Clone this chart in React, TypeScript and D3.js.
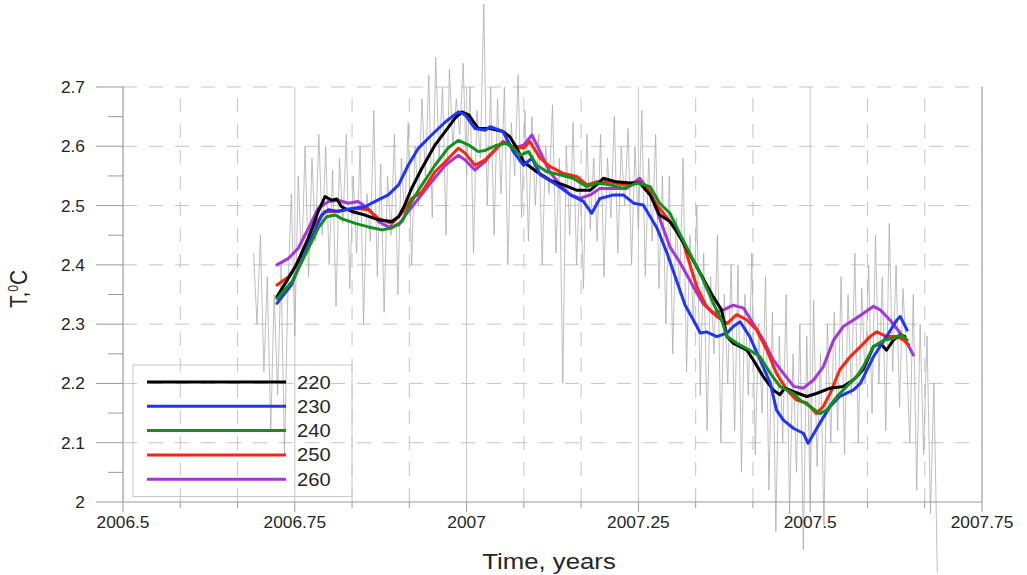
import React from 'react';
import * as d3 from 'd3';

// ---------- data ----------
const xTickValues = [2006.5, 2006.75, 2007, 2007.25, 2007.5, 2007.75];
const xTickLabels = ['2006.5', '2006.75', '2007', '2007.25', '2007.5', '2007.75'];
const yTickValues = [2, 2.1, 2.2, 2.3, 2.4, 2.5, 2.6, 2.7];
const yTickLabels = ['2', '2.1', '2.2', '2.3', '2.4', '2.5', '2.6', '2.7'];
const seriesNames = ['220', '230', '240', '250', '260'];
const seriesColors = ['#000000', '#1f35ff', '#12901c', '#ff2410', '#a435dc'];

// raw record (gray), sampled every grayStep years from grayStart
const grayStart = 2006.69;
const grayStep = 0.005;
const grayValues = [
  2.42, 2.30, 2.45, 2.22, 2.38, 2.12, 2.35, 2.18, 2.40, 2.08,
  2.36, 2.52, 2.28, 2.55, 2.40, 2.60, 2.38, 2.58, 2.44, 2.62,
  2.45, 2.60, 2.40, 2.56, 2.33, 2.58, 2.47, 2.62, 2.36, 2.55,
  2.42, 2.60, 2.30, 2.52, 2.44, 2.66, 2.38, 2.57, 2.32, 2.55,
  2.45, 2.62, 2.35, 2.58, 2.48, 2.64, 2.40, 2.60, 2.50, 2.68,
  2.55, 2.72, 2.48, 2.75, 2.58, 2.70, 2.45, 2.73, 2.60, 2.68,
  2.62, 2.74, 2.55, 2.70, 2.42, 2.66, 2.58, 2.84, 2.50, 2.70,
  2.45, 2.68, 2.52, 2.70, 2.40, 2.64, 2.55, 2.72, 2.48, 2.66,
  2.44, 2.65, 2.50, 2.62, 2.40, 2.60, 2.52, 2.67, 2.42, 2.58,
  2.20, 2.60, 2.45, 2.64, 2.40, 2.55, 2.36, 2.62, 2.46, 2.58,
  2.44, 2.62, 2.38, 2.58, 2.48, 2.65, 2.42, 2.60, 2.50, 2.63,
  2.40, 2.60, 2.46, 2.66, 2.38, 2.58, 2.44, 2.62, 2.36, 2.55,
  2.30, 2.55, 2.25, 2.48, 2.35, 2.58, 2.22, 2.45, 2.30, 2.50,
  2.18, 2.42, 2.12, 2.38, 2.25, 2.45, 2.10, 2.35, 2.20, 2.40,
  2.12, 2.40, 2.05, 2.35, 2.18, 2.42, 2.08, 2.30, 2.15, 2.38,
  2.02, 2.32, 1.95, 2.28, 2.10, 2.35, 1.98, 2.25, 2.05, 2.30,
  1.92, 2.28, 2.00, 2.34, 2.06, 2.25, 1.96, 2.30, 2.10, 2.32,
  2.12, 2.38, 2.08, 2.35, 2.18, 2.42, 2.10, 2.36, 2.20, 2.40,
  2.15, 2.45, 2.20, 2.38, 2.12, 2.47, 2.22, 2.40, 2.16, 2.36,
  2.25, 2.10, 2.35, 2.02, 2.30, 2.08, 2.28, 1.98, 2.20, 1.88,
];

const s220: [number, number][] = [
  [2006.724, 2.346], [2006.750, 2.395], [2006.770, 2.445], [2006.784, 2.49], [2006.794, 2.515],
  [2006.804, 2.509], [2006.811, 2.511], [2006.818, 2.498], [2006.833, 2.49], [2006.852, 2.484],
  [2006.872, 2.476], [2006.891, 2.473], [2006.901, 2.481], [2006.910, 2.501], [2006.920, 2.529],
  [2006.935, 2.563], [2006.954, 2.602], [2006.969, 2.625], [2006.983, 2.647], [2006.993, 2.658],
  [2007.003, 2.653], [2007.017, 2.63], [2007.034, 2.63], [2007.053, 2.625], [2007.063, 2.616],
  [2007.073, 2.597], [2007.083, 2.574], [2007.102, 2.557], [2007.121, 2.543], [2007.141, 2.535],
  [2007.160, 2.526], [2007.180, 2.526], [2007.189, 2.535], [2007.199, 2.546], [2007.218, 2.54],
  [2007.238, 2.538], [2007.252, 2.538], [2007.267, 2.518], [2007.281, 2.484], [2007.296, 2.473],
  [2007.306, 2.456], [2007.320, 2.428], [2007.340, 2.386], [2007.359, 2.346], [2007.371, 2.324],
  [2007.379, 2.279], [2007.388, 2.268], [2007.408, 2.256], [2007.417, 2.24], [2007.432, 2.211],
  [2007.446, 2.189], [2007.456, 2.181], [2007.463, 2.192], [2007.476, 2.186], [2007.495, 2.178],
  [2007.509, 2.183], [2007.529, 2.192], [2007.548, 2.195], [2007.563, 2.206], [2007.577, 2.223],
  [2007.592, 2.262], [2007.602, 2.268], [2007.611, 2.256], [2007.621, 2.273], [2007.631, 2.282],
  [2007.638, 2.279],
];

const s230: [number, number][] = [
  [2006.724, 2.335], [2006.745, 2.366], [2006.770, 2.434], [2006.789, 2.484], [2006.799, 2.493],
  [2006.813, 2.49], [2006.833, 2.495], [2006.852, 2.498], [2006.867, 2.507], [2006.886, 2.518],
  [2006.901, 2.535], [2006.915, 2.568], [2006.930, 2.597], [2006.949, 2.619], [2006.969, 2.641],
  [2006.988, 2.658], [2006.998, 2.653], [2007.012, 2.63], [2007.027, 2.627], [2007.034, 2.633],
  [2007.053, 2.625], [2007.068, 2.591], [2007.083, 2.568], [2007.095, 2.58], [2007.107, 2.552],
  [2007.131, 2.535], [2007.151, 2.518], [2007.170, 2.507], [2007.182, 2.487], [2007.194, 2.512],
  [2007.214, 2.518], [2007.228, 2.518], [2007.243, 2.504], [2007.257, 2.501], [2007.277, 2.462],
  [2007.291, 2.422], [2007.306, 2.372], [2007.318, 2.332], [2007.330, 2.307], [2007.340, 2.285],
  [2007.349, 2.287], [2007.364, 2.279], [2007.379, 2.285], [2007.388, 2.296], [2007.398, 2.304],
  [2007.412, 2.279], [2007.427, 2.24], [2007.442, 2.2], [2007.451, 2.155], [2007.461, 2.138],
  [2007.476, 2.124], [2007.490, 2.116], [2007.497, 2.099], [2007.514, 2.133], [2007.529, 2.161],
  [2007.543, 2.178], [2007.563, 2.189], [2007.573, 2.2], [2007.592, 2.245], [2007.611, 2.279],
  [2007.626, 2.307], [2007.631, 2.313], [2007.641, 2.29],
];

const s240: [number, number][] = [
  [2006.724, 2.343], [2006.746, 2.372], [2006.770, 2.428], [2006.784, 2.462], [2006.796, 2.481],
  [2006.809, 2.484], [2006.818, 2.478], [2006.838, 2.47], [2006.857, 2.464], [2006.877, 2.459],
  [2006.891, 2.462], [2006.906, 2.473], [2006.920, 2.507], [2006.935, 2.535], [2006.954, 2.568],
  [2006.973, 2.597], [2006.988, 2.61], [2007.003, 2.602], [2007.017, 2.591], [2007.027, 2.593],
  [2007.044, 2.602], [2007.058, 2.605], [2007.068, 2.597], [2007.078, 2.585], [2007.090, 2.591],
  [2007.102, 2.568], [2007.117, 2.557], [2007.136, 2.552], [2007.155, 2.546], [2007.175, 2.532],
  [2007.189, 2.538], [2007.209, 2.535], [2007.228, 2.529], [2007.248, 2.538], [2007.267, 2.532],
  [2007.281, 2.504], [2007.296, 2.487], [2007.310, 2.453], [2007.330, 2.408], [2007.344, 2.375],
  [2007.359, 2.335], [2007.371, 2.307], [2007.379, 2.279], [2007.393, 2.268], [2007.412, 2.256],
  [2007.427, 2.245], [2007.442, 2.217], [2007.456, 2.195], [2007.476, 2.183], [2007.485, 2.172],
  [2007.500, 2.161], [2007.514, 2.149], [2007.524, 2.155], [2007.539, 2.178], [2007.553, 2.195],
  [2007.568, 2.212], [2007.577, 2.228], [2007.592, 2.262], [2007.607, 2.273], [2007.621, 2.276],
  [2007.633, 2.282], [2007.641, 2.273],
];

const s250: [number, number][] = [
  [2006.724, 2.366], [2006.741, 2.38], [2006.755, 2.405], [2006.775, 2.462], [2006.794, 2.49],
  [2006.809, 2.49], [2006.823, 2.493], [2006.842, 2.495], [2006.857, 2.493], [2006.872, 2.478],
  [2006.891, 2.47], [2006.906, 2.487], [2006.920, 2.512], [2006.935, 2.523], [2006.954, 2.557],
  [2006.969, 2.574], [2006.988, 2.597], [2006.998, 2.588], [2007.012, 2.568], [2007.027, 2.577],
  [2007.039, 2.591], [2007.053, 2.608], [2007.068, 2.599], [2007.083, 2.597], [2007.092, 2.608],
  [2007.107, 2.58], [2007.121, 2.566], [2007.141, 2.554], [2007.160, 2.549], [2007.175, 2.535],
  [2007.189, 2.54], [2007.209, 2.54], [2007.228, 2.535], [2007.248, 2.54], [2007.262, 2.532],
  [2007.277, 2.501], [2007.296, 2.473], [2007.315, 2.439], [2007.320, 2.419], [2007.335, 2.363],
  [2007.349, 2.33], [2007.364, 2.313], [2007.379, 2.301], [2007.393, 2.316], [2007.408, 2.307],
  [2007.422, 2.29], [2007.437, 2.256], [2007.451, 2.217], [2007.466, 2.189], [2007.480, 2.172],
  [2007.495, 2.167], [2007.509, 2.149], [2007.519, 2.161], [2007.529, 2.183], [2007.543, 2.223],
  [2007.558, 2.245], [2007.573, 2.262], [2007.587, 2.279], [2007.597, 2.287], [2007.611, 2.279],
  [2007.626, 2.279], [2007.636, 2.273], [2007.643, 2.265],
];

const s260: [number, number][] = [
  [2006.724, 2.4], [2006.741, 2.411], [2006.755, 2.428], [2006.770, 2.462], [2006.784, 2.495],
  [2006.799, 2.507], [2006.813, 2.509], [2006.828, 2.504], [2006.842, 2.507], [2006.857, 2.495],
  [2006.872, 2.473], [2006.886, 2.464], [2006.901, 2.467], [2006.915, 2.49], [2006.930, 2.512],
  [2006.949, 2.54], [2006.969, 2.568], [2006.988, 2.585], [2006.998, 2.577], [2007.012, 2.56],
  [2007.027, 2.574], [2007.034, 2.585], [2007.053, 2.608], [2007.068, 2.597], [2007.083, 2.602],
  [2007.095, 2.619], [2007.107, 2.591], [2007.121, 2.557], [2007.136, 2.535], [2007.151, 2.518],
  [2007.165, 2.512], [2007.180, 2.518], [2007.194, 2.529], [2007.214, 2.529], [2007.233, 2.529],
  [2007.252, 2.546], [2007.267, 2.523], [2007.281, 2.478], [2007.296, 2.43], [2007.311, 2.403],
  [2007.330, 2.363], [2007.344, 2.335], [2007.359, 2.318], [2007.374, 2.324], [2007.388, 2.332],
  [2007.403, 2.327], [2007.417, 2.301], [2007.432, 2.273], [2007.446, 2.24], [2007.461, 2.217],
  [2007.476, 2.195], [2007.490, 2.192], [2007.505, 2.206], [2007.519, 2.228], [2007.534, 2.273],
  [2007.548, 2.296], [2007.563, 2.307], [2007.577, 2.318], [2007.592, 2.33], [2007.602, 2.324],
  [2007.616, 2.307], [2007.631, 2.285], [2007.641, 2.268], [2007.650, 2.248],
];

const seriesData = [s220, s230, s240, s250, s260];
const drawOrder = [4, 3, 0, 1, 2];

// ---------- layout ----------
const W = 1027;
const H = 575;
const X0 = 123;
const X1 = 982;
const Y0 = 502;
const Y1 = 87;
const FONT = 'Liberation Sans, Arial, Helvetica, sans-serif';
const GRID = '#c4c4c4';
const AXIS = '#9a9a9a';
const TXT = '#262626';

function SText(props: { x: number; y: number; anchor?: string; size: number; stretch?: number; children: any }) {
  const { x, y, anchor = 'start', size, stretch = 1.05, children } = props;
  return (
    <text
      transform={`translate(${x},${y}) scale(${stretch},1)`}
      textAnchor={anchor}
      fontSize={size}
      fontFamily={FONT}
      fill={TXT}
    >
      {children}
    </text>
  );
}

export default function App() {
  const x = d3.scaleLinear().domain([2006.5, 2007.75]).range([X0, X1]);
  const y = d3.scaleLinear().domain([2.0, 2.7]).range([Y0, Y1]);

  const line = d3
    .line<[number, number]>()
    .x((d) => x(d[0]))
    .y((d) => y(d[1]));

  const grayPts: [number, number][] = grayValues.map((v, i) => [grayStart + i * grayStep, v]);

  const monthTicks = d3.range(0, 16).map((i) => 2006.5 + i / 12);
  const yMinor = d3.range(0, 15).map((i) => 2.0 + i * 0.05);

  const legendX = 133;
  const legendY = 365;
  const legendW = 219;
  const legendRow = 24.3;

  return (
    <svg
      width={W}
      height={H}
      viewBox={`0 0 ${W} ${H}`}
      style={{ position: 'absolute', left: 0, top: 0, background: '#fff' }}
    >
      <rect x={0} y={0} width={W} height={H} fill="#fff" />

      {/* horizontal grid */}
      {yTickValues.slice(1).map((v) => (
        <line
          key={'hg' + v}
          x1={X0}
          x2={X1}
          y1={y(v)}
          y2={y(v)}
          stroke={GRID}
          strokeWidth={1}
          strokeDasharray="14,12"
        />
      ))}
      {/* vertical grid: months dashed, quarters solid */}
      {monthTicks.slice(1, 15).map((t, i) => {
        const quarter = (i + 1) % 3 === 0;
        return (
          <line
            key={'vg' + i}
            x1={x(t)}
            x2={x(t)}
            y1={y(2.0)}
            y2={y(2.7)}
            stroke={GRID}
            strokeWidth={1}
            strokeDasharray={quarter ? undefined : '14,12'}
          />
        );
      })}

      {/* raw record */}
      <path d={line(grayPts) || ''} fill="none" stroke="#ababab" strokeWidth={0.9} strokeOpacity={0.85} />

      {/* smoothed series */}
      {drawOrder.map((k) => (
        <path
          key={'s' + k}
          d={line(seriesData[k]) || ''}
          fill="none"
          stroke={seriesColors[k]}
          strokeWidth={3}
          strokeLinejoin="round"
          strokeLinecap="round"
        />
      ))}

      {/* axes frame */}
      <line x1={X0} x2={X0} y1={Y0} y2={Y1} stroke={AXIS} strokeWidth={1.2} />
      <line x1={X0} x2={X1} y1={Y0} y2={Y0} stroke={AXIS} strokeWidth={1.2} />
      <line x1={X1} x2={X1} y1={Y0} y2={Y1} stroke={AXIS} strokeWidth={1.2} />

      {/* x ticks */}
      {monthTicks.map((t, i) => {
        const major = i % 3 === 0;
        return (
          <line
            key={'xt' + i}
            x1={x(t)}
            x2={x(t)}
            y1={Y0}
            y2={Y0 + (major ? 10 : 6)}
            stroke={AXIS}
            strokeWidth={1}
          />
        );
      })}
      {/* y ticks */}
      {yMinor.map((v, i) => {
        const major = i % 2 === 0;
        return (
          <line
            key={'yt' + i}
            x1={X0 - (major ? 27 : 15)}
            x2={X0}
            y1={y(v)}
            y2={y(v)}
            stroke={AXIS}
            strokeWidth={1}
          />
        );
      })}

      {/* tick labels */}
      {xTickValues.map((v, i) => (
        <SText key={'xl' + i} x={x(v)} y={528} anchor="middle" size={16.5}>
          {xTickLabels[i]}
        </SText>
      ))}
      {yTickValues.map((v, i) => (
        <SText key={'yl' + i} x={85} y={y(v) + 6} anchor="end" size={16.5}>
          {yTickLabels[i]}
        </SText>
      ))}

      {/* axis titles */}
      <SText x={549} y={569} anchor="middle" size={23} stretch={1.12}>
        Time, years
      </SText>
      <text
        transform="translate(27,289) rotate(-90) scale(1,1.15)"
        textAnchor="middle"
        fontSize={21}
        fontFamily={FONT}
        fill={TXT}
      >
        T,
        <tspan dy={-8} fontSize={12}>
          0
        </tspan>
        <tspan dy={8}>C</tspan>
      </text>

      {/* legend */}
      <rect
        x={legendX}
        y={legendY}
        width={legendW}
        height={legendRow * 5 + 10}
        fill="none"
        stroke="#c8c8c8"
        strokeWidth={1}
      />
      {seriesNames.map((name, i) => {
        const ly = legendY + 17 + i * legendRow;
        return (
          <g key={'lg' + i}>
            <line x1={147} x2={286} y1={ly} y2={ly} stroke={seriesColors[i]} strokeWidth={3} />
            <SText x={297} y={ly + 6.5} size={18} stretch={1.12}>
              {name}
            </SText>
          </g>
        );
      })}
    </svg>
  );
}
